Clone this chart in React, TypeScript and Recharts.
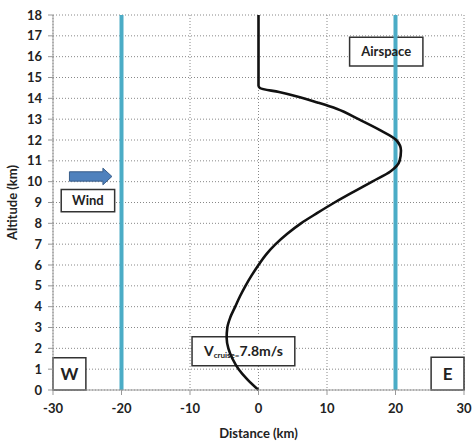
import {
  ComposedChart,
  Line,
  XAxis,
  YAxis,
  CartesianGrid,
  ReferenceLine,
  ReferenceArea,
} from "recharts";

// flight path: distance (km) at each altitude (km)
const altitudeKm = [
  0, 0.5, 1, 1.5, 2, 2.5, 3, 3.5, 4, 4.5, 5, 5.5, 6, 6.5, 7, 7.5, 8, 8.5, 9,
  9.5, 10, 10.5, 11, 11.5, 12, 12.5, 13, 13.5, 13.8, 14.1, 14.3, 14.5, 14.6,
  16, 18,
];
const distanceKm = [
  0, -1.6, -2.9, -3.8, -4.4, -4.65, -4.55, -4.1, -3.4, -2.7, -1.9, -1.0, 0, 1.1,
  2.5, 4.2, 6.2, 8.6, 11.1, 13.8, 16.6, 19.3, 20.6, 20.8, 20.1, 17.6, 14.6,
  11.4, 8.6, 5.5, 3.0, 0.2, 0, 0, 0,
];
const airspaceEdges = [-20, 20];
const distanceTicks = [-30, -20, -10, 0, 10, 20, 30];
const altitudeTicks = [
  0, 1, 2, 3, 4, 5, 6, 7, 8, 9, 10, 11, 12, 13, 14, 15, 16, 17, 18,
];

const data = altitudeKm.map((alt, i) => ({ alt, dist: distanceKm[i] }));

const FONT = "Lato, 'Open Sans', sans-serif";
const INK = "#222";
const BOX = { fill: "#fff", stroke: "#333", strokeWidth: 1.5, fillOpacity: 1 };

function WindArrow(props: any) {
  const { x, y, width, height } = props;
  const head = 9;
  const b1 = y + height * 0.22;
  const b2 = y + height * 0.78;
  const mid = y + height / 2;
  const d = `M${x},${b1} L${x + width - head},${b1} L${x + width - head},${y} L${x + width},${mid} L${x + width - head},${y + height} L${x + width - head},${b2} L${x},${b2} Z`;
  return <path d={d} fill="#4f81bd" stroke="#385d8a" strokeWidth={1} />;
}

function CruiseLabel(props: any) {
  const { x, y, width, height } = props.viewBox;
  return (
    <text
      x={x + width / 2}
      y={y + height / 2 + 5}
      textAnchor="middle"
      fontFamily={FONT}
      fontWeight={700}
      fontSize={14}
      fill={INK}
    >
      V
      <tspan fontSize={8} dy={2}>
        cruise=
      </tspan>
      <tspan fontSize={14} dy={-2}>
        7.8m/s
      </tspan>
    </text>
  );
}

const boxLabel = (value: string, size: number) => ({
  value,
  position: "center" as const,
  fill: INK,
  fontSize: size,
  fontWeight: 700,
  fontFamily: FONT,
});

export default function App() {
  return (
    <div style={{ position: "absolute", left: 0, top: 0, background: "#fff" }}>
      <ComposedChart
        width={472}
        height={442}
        data={data}
        layout="vertical"
        margin={{ top: 15, right: 8, bottom: 0, left: 0 }}
      >
        <CartesianGrid
          stroke="#888"
          strokeDasharray="1 2"
          horizontalValues={altitudeTicks}
          verticalValues={distanceTicks}
        />
        <XAxis
          type="number"
          domain={[-30, 30]}
          ticks={distanceTicks}
          height={52}
          tickSize={5}
          tickMargin={9}
          stroke="#999"
          tick={{ fill: INK, fontSize: 13, fontWeight: 700, fontFamily: FONT }}
          label={{
            value: "Distance (km)",
            position: "insideBottom",
            offset: 4,
            fill: INK,
            fontSize: 13,
            fontWeight: 700,
            fontFamily: FONT,
          }}
        />
        <YAxis
          type="number"
          dataKey="alt"
          domain={[0, 18]}
          ticks={altitudeTicks}
          interval={0}
          reversed
          width={53}
          tickSize={5}
          tickMargin={6}
          stroke="#999"
          tick={{ fill: INK, fontSize: 13, fontWeight: 700, fontFamily: FONT }}
          label={{
            value: "Altitude (km)",
            angle: -90,
            position: "center",
            dx: -14,
            fill: INK,
            fontSize: 13,
            fontWeight: 700,
            fontFamily: FONT,
          }}
        />
        {airspaceEdges.map((x) => (
          <ReferenceLine key={x} x={x} stroke="#4bacc6" strokeWidth={4} />
        ))}
        <Line
          dataKey="dist"
          type="monotone"
          stroke="#111"
          strokeWidth={2.6}
          dot={false}
          isAnimationActive={false}
        />
        <ReferenceArea
          x1={13.3}
          x2={24}
          y1={15.55}
          y2={16.93}
          {...BOX}
          label={boxLabel("Airspace", 13)}
        />
        <ReferenceArea
          x1={-28.8}
          x2={-21}
          y1={8.56}
          y2={9.63}
          {...BOX}
          label={boxLabel("Wind", 13)}
        />
        <ReferenceArea
          x1={-27.6}
          x2={-21.4}
          y1={9.85}
          y2={10.65}
          shape={WindArrow}
        />
        <ReferenceArea
          x1={-30}
          x2={-25.2}
          y1={0}
          y2={1.55}
          {...BOX}
          label={boxLabel("W", 17)}
        />
        <ReferenceArea
          x1={25.2}
          x2={30}
          y1={0}
          y2={1.57}
          {...BOX}
          label={boxLabel("E", 17)}
        />
        <ReferenceArea
          x1={-9.7}
          x2={5.3}
          y1={1.17}
          y2={2.56}
          {...BOX}
          label={<CruiseLabel />}
        />
      </ComposedChart>
    </div>
  );
}
